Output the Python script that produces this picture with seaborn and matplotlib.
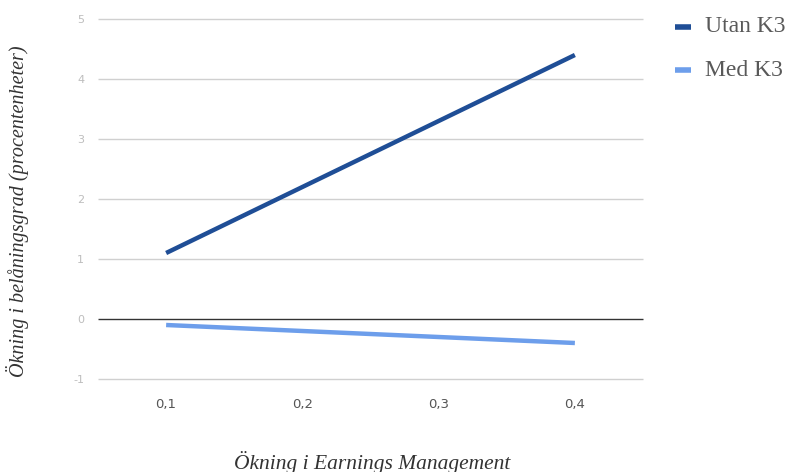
import matplotlib
matplotlib.use("Agg")
import matplotlib.pyplot as plt
import seaborn as sns
import pandas as pd

# Data
categories = ["0,1", "0,2", "0,3", "0,4"]
utan_k3 = [1.1, 2.2, 3.3, 4.4]
med_k3 = [-0.1, -0.2, -0.3, -0.4]
series_names = ["Utan K3", "Med K3"]
y_ticks = [-1, 0, 1, 2, 3, 4, 5]

colors = {"Utan K3": "#1f4e96", "Med K3": "#6d9eeb"}

df = pd.DataFrame({
    "x": categories * 2,
    "value": utan_k3 + med_k3,
    "serie": [series_names[0]] * len(categories) + [series_names[1]] * len(categories),
})

sns.set_theme(style="white")
plt.rcParams["font.family"] = ["Liberation Serif", "DejaVu Serif"]

fig = plt.figure(figsize=(7.89, 4.72), dpi=100)
ax = fig.add_axes([98 / 789, 1 - 379 / 472, (643 - 98) / 789, (379 - 19) / 472])

for y in y_ticks:
    ax.axhline(y, color="#333333" if y == 0 else "#d0d0d0", lw=1.0, zorder=0, clip_on=False)

sns.lineplot(data=df, x="x", y="value", hue="serie", palette=colors,
             linewidth=3.2, ax=ax, legend=False, sort=False)
for ln in ax.lines:
    ln.set_solid_capstyle("butt")

ax.set_xlim(-0.5, len(categories) - 0.5)
ax.set_ylim(-1, 5)
ax.set_yticks(y_ticks)
ax.set_yticklabels([str(v) for v in y_ticks], fontfamily="DejaVu Sans",
                   fontsize=8, color="#bdbdbd")
ax.set_xticks(range(len(categories)))
ax.set_xticklabels(categories, fontfamily="DejaVu Sans", fontsize=9.5, color="#555555")
ax.tick_params(axis="both", length=0)
ax.tick_params(axis="y", pad=10)
ax.tick_params(axis="x", pad=14)
for s in ax.spines.values():
    s.set_visible(False)
ax.set_xlabel("")
ax.set_ylabel("")

# Axis titles
fig.text(372 / 789, 1 - 462 / 472, "Ökning i Earnings Management", fontsize=15.5,
         style="italic", color="#333333", ha="center", va="center")
fig.text(18 / 789, 1 - 211 / 472, "Ökning i belåningsgrad (procentenheter)", fontsize=14.5,
         style="italic", color="#333333", ha="center", va="center", rotation=90)

# Legend to the right of the plot area
for i, name in enumerate(series_names):
    ypix = 27 + i * 43
    yf = 1 - ypix / 472
    fig.add_artist(plt.Line2D([675 / 789, 691 / 789], [yf, yf], color=colors[name],
                              lw=4, solid_capstyle="butt", transform=fig.transFigure))
    fig.text(705 / 789, yf, name, fontsize=17, color="#595959", va="center", ha="left")

fig.savefig("out.png", dpi=100)
